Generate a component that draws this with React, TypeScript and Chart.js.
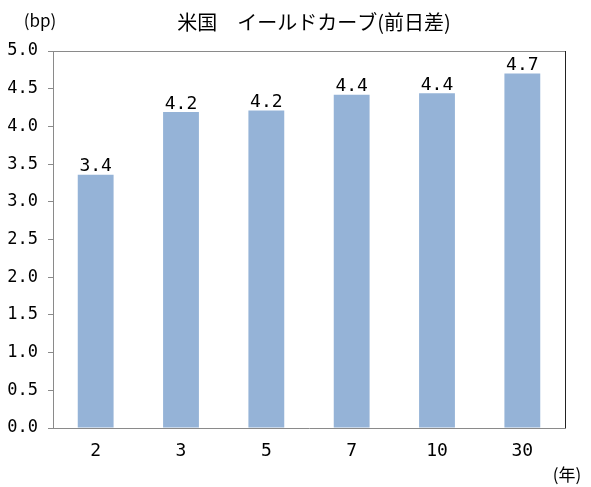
import React, { useEffect, useRef } from "react";
import { Chart, registerables } from "chart.js";

Chart.register(...registerables);

const categories = ["2", "3", "5", "7", "10", "30"];
const values = [3.36, 4.19, 4.21, 4.42, 4.44, 4.7];
const yTicks = [0, 0.5, 1, 1.5, 2, 2.5, 3, 3.5, 4, 4.5, 5];
const titleText = "米国　イールドカーブ(前日差)";
const yUnit = "(bp)";
const xUnit = "(年)";

const NUM_FONT = "'DejaVu Sans Mono', monospace";
const JP_FONT = "'Noto Sans CJK JP', sans-serif";

const overlayPlugin = {
  id: "overlay",
  afterDatasetsDraw(chart: any) {
    const { ctx, chartArea } = chart;
    ctx.save();
    ctx.lineWidth = 1;
    ctx.strokeStyle = "#8a8a8a";
    ctx.beginPath();
    ctx.moveTo(chartArea.left, chartArea.top + 0.5);
    ctx.lineTo(chartArea.right, chartArea.top + 0.5);
    ctx.stroke();
    ctx.strokeStyle = "#222222";
    ctx.beginPath();
    ctx.moveTo(chartArea.right + 0.5, chartArea.top);
    ctx.lineTo(chartArea.right + 0.5, chartArea.bottom);
    ctx.stroke();
    const meta = chart.getDatasetMeta(0);
    ctx.fillStyle = "#000";
    ctx.font = `18px ${NUM_FONT}`;
    ctx.textAlign = "center";
    ctx.textBaseline = "bottom";
    meta.data.forEach((bar: any, i: number) => {
      const v = chart.data.datasets[0].data[i] as number;
      ctx.fillText(v.toFixed(1), bar.x, bar.y + 1);
    });
    ctx.font = `20px ${JP_FONT}`;
    ctx.textBaseline = "middle";
    ctx.textAlign = "center";
    ctx.fillText(titleText, 314, 22);
    ctx.font = `17px ${JP_FONT}`;
    ctx.fillText(yUnit, 40, 21);
    ctx.fillText(xUnit, 567, 475);
    ctx.restore();
  },
};

export default function App() {
  const ref = useRef<HTMLCanvasElement | null>(null);
  useEffect(() => {
    document.body.style.margin = "0";
    document.body.style.overflow = "hidden";
    if (!ref.current) return;
    const chart = new Chart(ref.current, {
      type: "bar",
      data: {
        labels: categories,
        datasets: [
          {
            data: values,
            backgroundColor: "#95B3D7",
            borderWidth: 0,
            barPercentage: 0.42,
            categoryPercentage: 1,
          },
        ],
      },
      options: {
        animation: false,
        responsive: false,
        devicePixelRatio: 1,
        layout: { padding: { left: 0, right: 26, top: 51, bottom: 0 } },
        plugins: {
          legend: { display: false },
          tooltip: { enabled: false },
          title: { display: false },
        },
        scales: {
          x: {
            grid: { display: false, drawTicks: false },
            border: { display: true, color: "#8a8a8a", width: 1 },
            ticks: {
              color: "#000",
              font: { family: NUM_FONT, size: 18 },
              padding: 13,
              maxRotation: 0,
            },
            afterFit(scale: any) {
              scale.height = 59;
            },
          },
          y: {
            min: 0,
            max: 5,
            afterBuildTicks(scale: any) {
              scale.ticks = yTicks.map((v) => ({ value: v }));
            },
            grid: {
              display: true,
              drawOnChartArea: false,
              drawTicks: true,
              tickLength: 5,
              color: "#8a8a8a",
            },
            border: { display: true, color: "#8a8a8a", width: 1 },
            ticks: {
              color: "#000",
              font: { family: NUM_FONT, size: 17 },
              padding: 10,
              callback: (v: any) => Number(v).toFixed(1),
            },
            afterFit(scale: any) {
              scale.width = 53;
            },
          },
        },
      },
      plugins: [overlayPlugin],
    });
    return () => chart.destroy();
  }, []);
  return (
    <div style={{ width: 591, height: 487 }}>
      <canvas ref={ref} width={591} height={487} style={{ display: "block" }} />
    </div>
  );
}
